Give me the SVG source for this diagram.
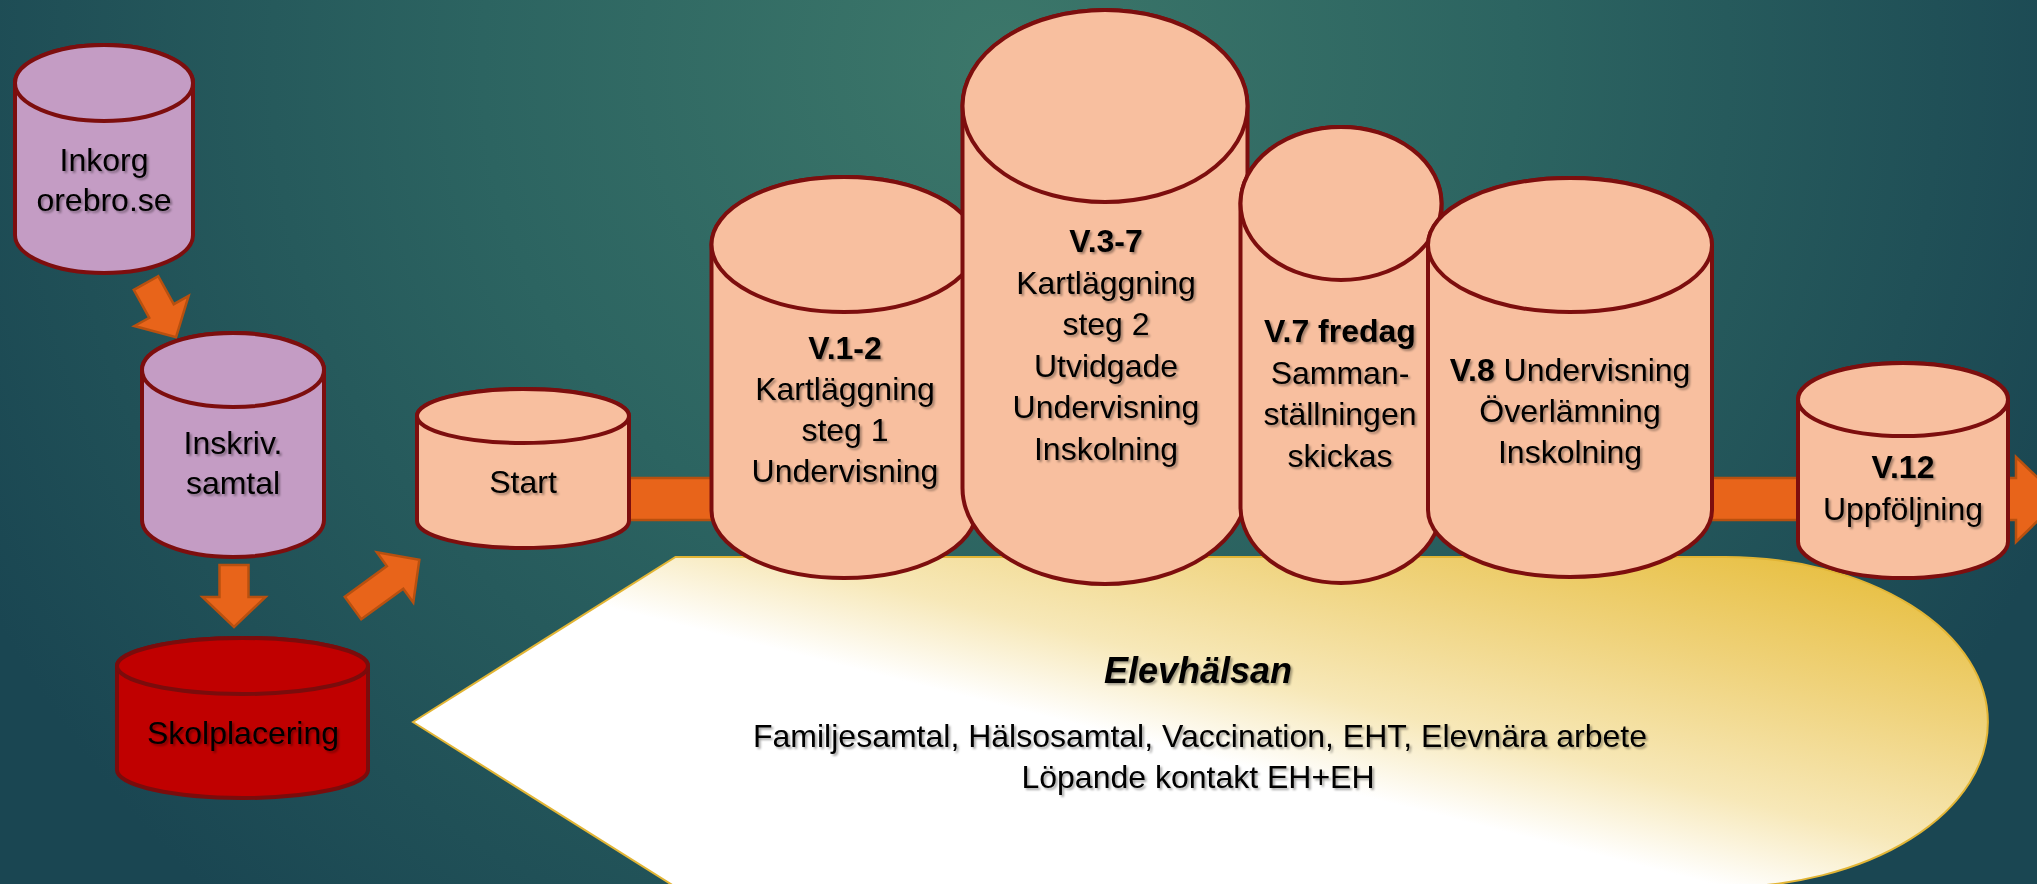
<svg xmlns="http://www.w3.org/2000/svg" width="2037" height="884" viewBox="0 0 2037 884">
<defs>
<radialGradient id="bg" gradientUnits="userSpaceOnUse" cx="1000" cy="60" r="1150">
<stop offset="0" stop-color="#3C776A"/>
<stop offset="0.45" stop-color="#2C6461"/>
<stop offset="1" stop-color="#1A4652"/>
</radialGradient>
<linearGradient id="gold" gradientUnits="userSpaceOnUse" x1="1000" y1="796" x2="1107" y2="369">
<stop offset="0" stop-color="#FFFFFF"/>
<stop offset="0.2" stop-color="#FFFFFF"/>
<stop offset="0.4" stop-color="#F7E8B8"/>
<stop offset="0.7" stop-color="#EFD27A"/>
<stop offset="1" stop-color="#E7BE3E"/>
</linearGradient>
<filter id="ts" x="-10%" y="-30%" width="130%" height="160%">
<feDropShadow dx="2" dy="2" stdDeviation="1.2" flood-color="#000" flood-opacity="0.35"/>
</filter>
<style>
.cyl path, .cyl ellipse { stroke: #7D0E0E; stroke-width: 4; }
.purple path, .purple ellipse { fill: #C49CC4; }
.salmon path, .salmon ellipse { fill: #F8BF9F; }
.red path, .red ellipse { fill: #C00000; stroke: #7A0C0C; }
.arrow { fill: #E8641A; stroke: #B8500F; stroke-width: 2.5; stroke-linejoin: miter; }
text { font-family: "Liberation Sans", Arial, sans-serif; font-size: 32px; fill: #000; text-anchor: middle; }
.lbl { filter: url(#ts); }
.b { font-weight: bold; }
</style>
</defs>
<rect x="0" y="0" width="2037" height="884" fill="url(#bg)"/>

<g id="elevhalsan">
<path d="M413,722 L675.5,557 L1725.5,557 A262.5,165 0 0 1 1725.5,887 L675.5,887 Z" fill="url(#gold)" stroke="#E2B535" stroke-width="2"/>
<g class="lbl">
<text x="1198" y="683" style="font-size:36px;font-weight:bold;font-style:italic">Elevhälsan</text>
<text x="1200" y="747">Familjesamtal, Hälsosamtal, Vaccination, EHT, Elevnära arbete</text>
<text x="1198" y="788">Löpande kontakt EH+EH</text>
</g>
</g>

<g id="connectors">
<polygon class="arrow" points="600,478 2016,478 2016,457 2060,499 2016,542 2016,520 600,520"/>
<polygon class="arrow" transform="translate(146,283) rotate(-29)" points="-14,0 14,0 14,32 31,32 0,62 -31,32 -14,32"/>
<polygon class="arrow" points="219.5,565 248.5,565 248.5,597 265.5,597 234,627 202.5,597 219.5,597"/>
<polygon class="arrow" transform="translate(353,608) rotate(-36)" points="0,-14 52,-14 52,-31 82,0 52,31 52,14 0,14"/>
</g>

<g id="inkorg" class="cyl purple">
<path d="M15,83 A89,38 0 0 1 193,83 L193,235 A89,38 0 0 1 15,235 Z"/>
<ellipse cx="104" cy="83" rx="89" ry="38"/>
<g class="lbl"><text x="104" y="171">Inkorg</text><text x="104" y="211">orebro.se</text></g>
</g>

<g id="inskriv" class="cyl purple">
<path d="M142,370 A91,37 0 0 1 324,370 L324,520 A91,37 0 0 1 142,520 Z"/>
<ellipse cx="233" cy="370" rx="91" ry="37"/>
<g class="lbl"><text x="233" y="454">Inskriv.</text><text x="233" y="494">samtal</text></g>
</g>

<g id="skolplacering" class="cyl red">
<path d="M117,666 A125.5,28 0 0 1 368,666 L368,770 A125.5,28 0 0 1 117,770 Z"/>
<ellipse cx="242.5" cy="666" rx="125.5" ry="28"/>
<g class="lbl"><text x="243" y="744">Skolplacering</text></g>
</g>

<g id="start" class="cyl salmon">
<path d="M417,416 A106,27 0 0 1 629,416 L629,521 A106,27 0 0 1 417,521 Z"/>
<ellipse cx="523" cy="416" rx="106" ry="27"/>
<g class="lbl"><text x="523" y="493">Start</text></g>
</g>

<g id="v1-2" class="cyl salmon">
<path d="M711.5,244.5 A132.5,67.5 0 0 1 976.5,244.5 L976.5,510.5 A132.5,67.5 0 0 1 711.5,510.5 Z"/>
<ellipse cx="844" cy="244.5" rx="132.5" ry="67.5"/>
<g class="lbl">
<text x="845" y="359" class="b">V.1-2</text>
<text x="845" y="400">Kartläggning</text>
<text x="845" y="441">steg 1</text>
<text x="845" y="482">Undervisning</text>
</g>
</g>

<g id="v3-7" class="cyl salmon">
<path d="M962.5,106 A142.5,96 0 0 1 1247.5,106 L1247.5,488 A142.5,96 0 0 1 962.5,488 Z"/>
<ellipse cx="1105" cy="106" rx="142.5" ry="96"/>
<g class="lbl">
<text x="1106" y="252" class="b">V.3-7</text>
<text x="1106" y="293.5">Kartläggning</text>
<text x="1106" y="335">steg 2</text>
<text x="1106" y="376.5">Utvidgade</text>
<text x="1106" y="418">Undervisning</text>
<text x="1106" y="459.5">Inskolning</text>
</g>
</g>

<g id="v7" class="cyl salmon">
<path d="M1240.5,203.5 A100.5,76.5 0 0 1 1441.5,203.5 L1441.5,506.5 A100.5,76.5 0 0 1 1240.5,506.5 Z"/>
<ellipse cx="1341" cy="203.5" rx="100.5" ry="76.5"/>
<g class="lbl">
<text x="1340" y="342" class="b">V.7 fredag</text>
<text x="1340" y="383.5">Samman-</text>
<text x="1340" y="425">ställningen</text>
<text x="1340" y="466.5">skickas</text>
</g>
</g>

<g id="v8" class="cyl salmon">
<path d="M1428,245 A142,67 0 0 1 1712,245 L1712,510 A142,67 0 0 1 1428,510 Z"/>
<ellipse cx="1570" cy="245" rx="142" ry="67"/>
<g class="lbl">
<text x="1570" y="381"><tspan class="b">V.8</tspan> Undervisning</text>
<text x="1570" y="422">Överlämning</text>
<text x="1570" y="463">Inskolning</text>
</g>
</g>

<g id="v12" class="cyl salmon">
<path d="M1798,399.5 A105,36.5 0 0 1 2008,399.5 L2008,541.5 A105,36.5 0 0 1 1798,541.5 Z"/>
<ellipse cx="1903" cy="399.5" rx="105" ry="36.5"/>
<g class="lbl">
<text x="1903" y="478" class="b">V.12</text>
<text x="1903" y="520">Uppföljning</text>
</g>
</g>
</svg>
